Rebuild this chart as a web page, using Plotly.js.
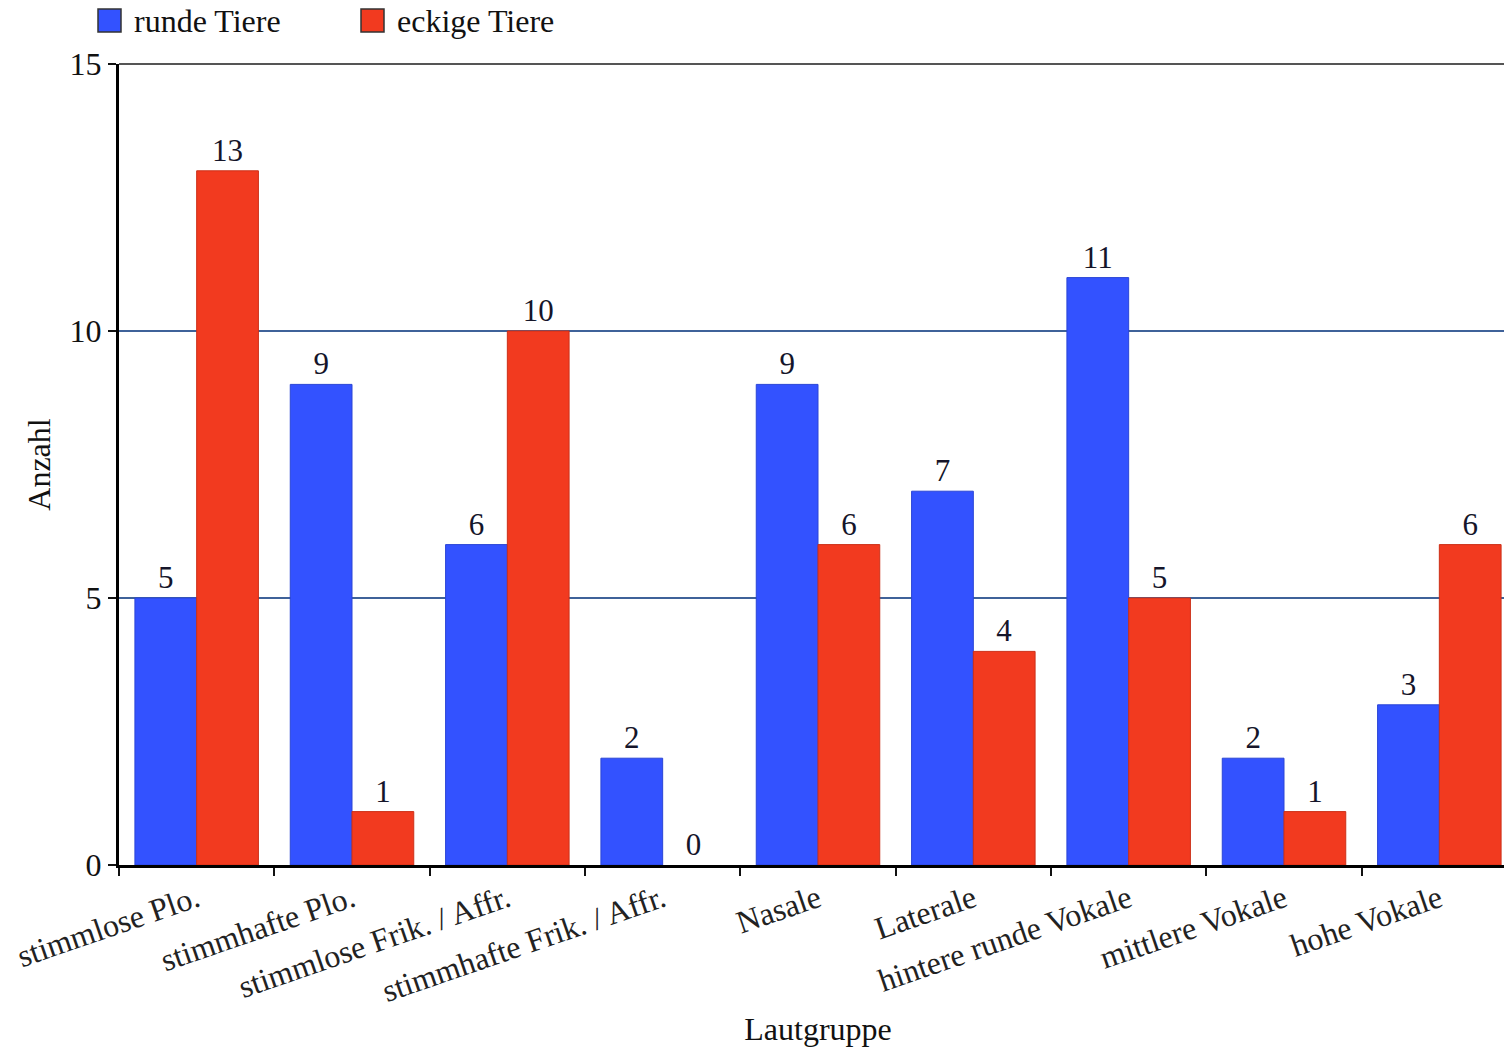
<!DOCTYPE html>
<html>
<head>
<meta charset="utf-8">
<script src="https://cdn.plot.ly/plotly-3.0.1.min.js"></script>
<style>
  html, body { margin: 0; padding: 0; overflow: hidden; background: #fff; }
  #chart { width: 1520px; height: 1047px; }
</style>
</head>
<body>
<div id="chart"></div>
<script>
// Sound groups and counts per animal shape
const categories = [
  'stimmlose Plo.',
  'stimmhafte Plo.',
  'stimmlose Frik. / Affr.',
  'stimmhafte Frik. / Affr.',
  'Nasale',
  'Laterale',
  'hintere runde Vokale',
  'mittlere Vokale',
  'hohe Vokale'
];
const rundeTiere  = [5, 9, 6, 2, 9, 7, 11, 2, 3];
const eckigeTiere = [13, 1, 10, 0, 6, 4, 5, 1, 6];
const seriesNames = ['runde Tiere', 'eckige Tiere'];
const yTicks = [0, 5, 10, 15];

const BLUE = '#3352ff', BLUE_EDGE = '#2a45d6';
const RED = '#f23a1f', RED_EDGE = '#cc3018';
const FONT = 'Liberation Serif, Times New Roman, serif';

// plot-area geometry in pixels, used to place the hand-drawn legend
const W = 1520, H = 1047;
const M = { l: 119, r: 3, t: 64, b: 182 };
const pw = W - M.l - M.r, ph = H - M.t - M.b;
const px = x => (x - M.l) / pw;
const py = y => (H - M.b - y) / ph;

function barTrace(name, values, color, edge) {
  return {
    type: 'bar',
    name: name,
    x: categories,
    y: values,
    marker: { color: color, line: { color: edge, width: values.map(v => (v > 0 ? 1 : 0)) } },
    text: values.map(String),
    textposition: 'outside',
    textfont: { family: FONT, size: 31, color: '#15152a' },
    cliponaxis: false,
    hoverinfo: 'x+y'
  };
}

const data = [
  barTrace(seriesNames[0], rundeTiere, BLUE, BLUE_EDGE),
  barTrace(seriesNames[1], eckigeTiere, RED, RED_EDGE)
];

const legendItems = [
  { label: seriesNames[0], color: BLUE, x0: 98 },
  { label: seriesNames[1], color: RED, x0: 361 }
];

const shapes = [
  // top frame line
  { type: 'line', xref: 'paper', yref: 'paper', x0: 0, x1: 1, y0: 1, y1: 1,
    line: { color: '#555555', width: 2 }, layer: 'above' }
];
const annotations = [];
legendItems.forEach(it => {
  shapes.push({
    type: 'rect', xref: 'paper', yref: 'paper',
    x0: px(it.x0), x1: px(it.x0 + 23), y0: py(32), y1: py(9),
    fillcolor: it.color, line: { color: '#333333', width: 1.5 }
  });
  annotations.push({
    xref: 'paper', yref: 'paper', x: px(it.x0 + 34), y: py(21),
    xanchor: 'left', yanchor: 'middle', showarrow: false,
    text: it.label, font: { family: FONT, size: 32, color: '#111' }
  });
});

const layout = {
  width: W,
  height: H,
  margin: M,
  paper_bgcolor: '#fff',
  plot_bgcolor: '#fff',
  showlegend: false,
  barmode: 'group',
  bargap: 0.205,
  bargroupgap: 0,
  font: { family: FONT, size: 32, color: '#111' },
  xaxis: {
    type: 'category',
    tickson: 'boundaries',
    ticks: 'outside',
    ticklen: 8,
    tickwidth: 2,
    tickcolor: '#111',
    tickangle: -19,
    tickfont: { family: FONT, size: 32, color: '#222' },
    showline: true,
    linecolor: '#000',
    linewidth: 3,
    showgrid: false,
    automargin: false,
    title: { text: 'Lautgruppe', font: { family: FONT, size: 32, color: '#111' }, standoff: 22 }
  },
  yaxis: {
    range: [0, 15],
    tickvals: yTicks,
    ticktext: yTicks.map(String),
    ticks: 'outside',
    ticklen: 8,
    tickwidth: 2,
    tickcolor: '#111',
    tickfont: { family: FONT, size: 32, color: '#111' },
    showline: true,
    linecolor: '#000',
    linewidth: 3,
    showgrid: true,
    gridcolor: '#3f6299',
    gridwidth: 1.5,
    zeroline: false,
    automargin: false,
    title: { text: 'Anzahl', font: { family: FONT, size: 32, color: '#111' }, standoff: 10 }
  },
  shapes: shapes,
  annotations: annotations
};

Plotly.newPlot('chart', data, layout, { displayModeBar: false, staticPlot: true });
</script>
</body>
</html>
